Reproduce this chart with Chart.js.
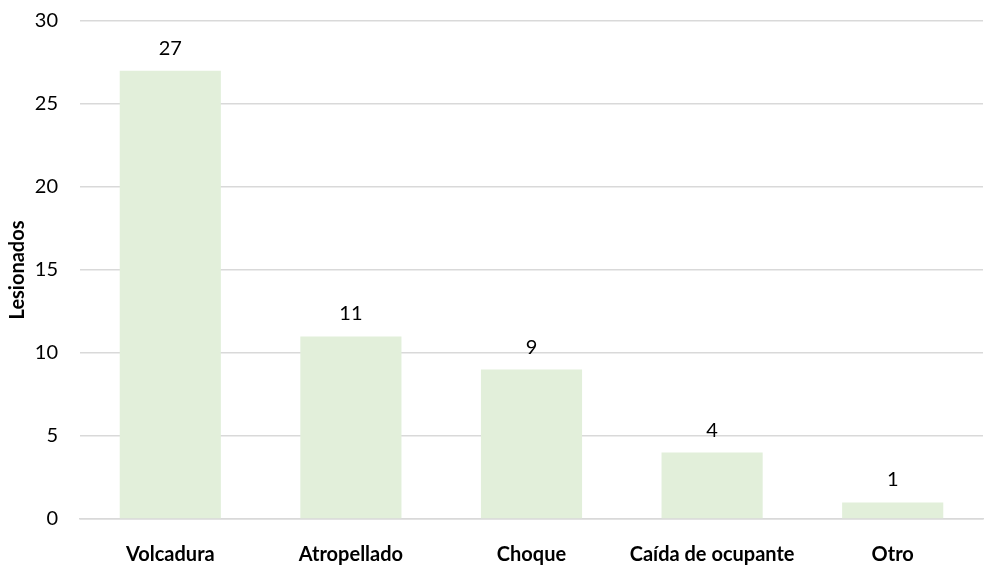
<!DOCTYPE html>
<html>
<head>
<meta charset="utf-8">
<script src="https://cdn.jsdelivr.net/npm/chart.js@4/dist/chart.umd.min.js"></script>
<style>
  html, body { margin: 0; padding: 0; background: #fff; }
  #wrap { width: 985px; height: 568px; }
</style>
</head>
<body>
<div id="wrap"><canvas id="chart" width="985" height="568"></canvas></div>
<script>
// Datos
const categorias = ['Volcadura', 'Atropellado', 'Choque', 'Caída de ocupante', 'Otro'];
const lesionados = [27, 11, 9, 4, 1];
const yMin = 0;
const yMax = 30;
const yPaso = 5;

const fuente = 'Lato, sans-serif';

// Etiquetas sobre las barras
const etiquetasBarras = {
    id: 'etiquetasBarras',
    afterDatasetsDraw(chart) {
        const ctx = chart.ctx;
        const meta = chart.getDatasetMeta(0);
        ctx.save();
        ctx.font = '20px ' + fuente;
        ctx.fillStyle = '#000';
        ctx.textAlign = 'center';
        ctx.textBaseline = 'alphabetic';
        meta.data.forEach((bar, i) => {
            ctx.fillText(String(lesionados[i]), bar.x, bar.y - 16);
        });
        ctx.restore();
    }
};

const chart = new Chart(document.getElementById('chart'), {
    type: 'bar',
    data: {
        labels: categorias,
        datasets: [{
            label: 'Lesionados',
            data: lesionados,
            backgroundColor: '#e2efda',
            borderWidth: 0,
            barPercentage: 0.56,
            categoryPercentage: 1
        }]
    },
    options: {
        animation: false,
        responsive: false,
        layout: { padding: { top: 0, right: 2, bottom: 0, left: 6 } },
        plugins: {
            legend: { display: false },
            tooltip: { enabled: false }
        },
        scales: {
            x: {
                grid: { display: false, drawTicks: false },
                border: { display: true, color: '#d9d9d9', width: 1.5 },
                ticks: {
                    color: '#000',
                    padding: 24,
                    maxRotation: 0,
                    minRotation: 0,
                    autoSkip: false,
                    font: { family: fuente, size: 20, weight: 'bold' }
                },
                afterFit(scale) { scale.height = 49; }
            },
            y: {
                min: yMin,
                max: yMax,
                grid: { color: '#d9d9d9', lineWidth: 1.5, drawTicks: false },
                border: { display: false },
                ticks: {
                    stepSize: yPaso,
                    color: '#000',
                    padding: 22,
                    font: { family: fuente, size: 20 }
                },
                title: {
                    display: true,
                    text: 'Lesionados',
                    color: '#000',
                    font: { family: fuente, size: 20, weight: 'bold' },
                    padding: { top: 0, bottom: 2 }
                },
                afterFit(scale) {
                    scale.width = 74;
                    scale.paddingTop = 21;
                    scale.paddingBottom = 0;
                }
            }
        }
    },
    plugins: [etiquetasBarras]
});
</script>
</body>
</html>
